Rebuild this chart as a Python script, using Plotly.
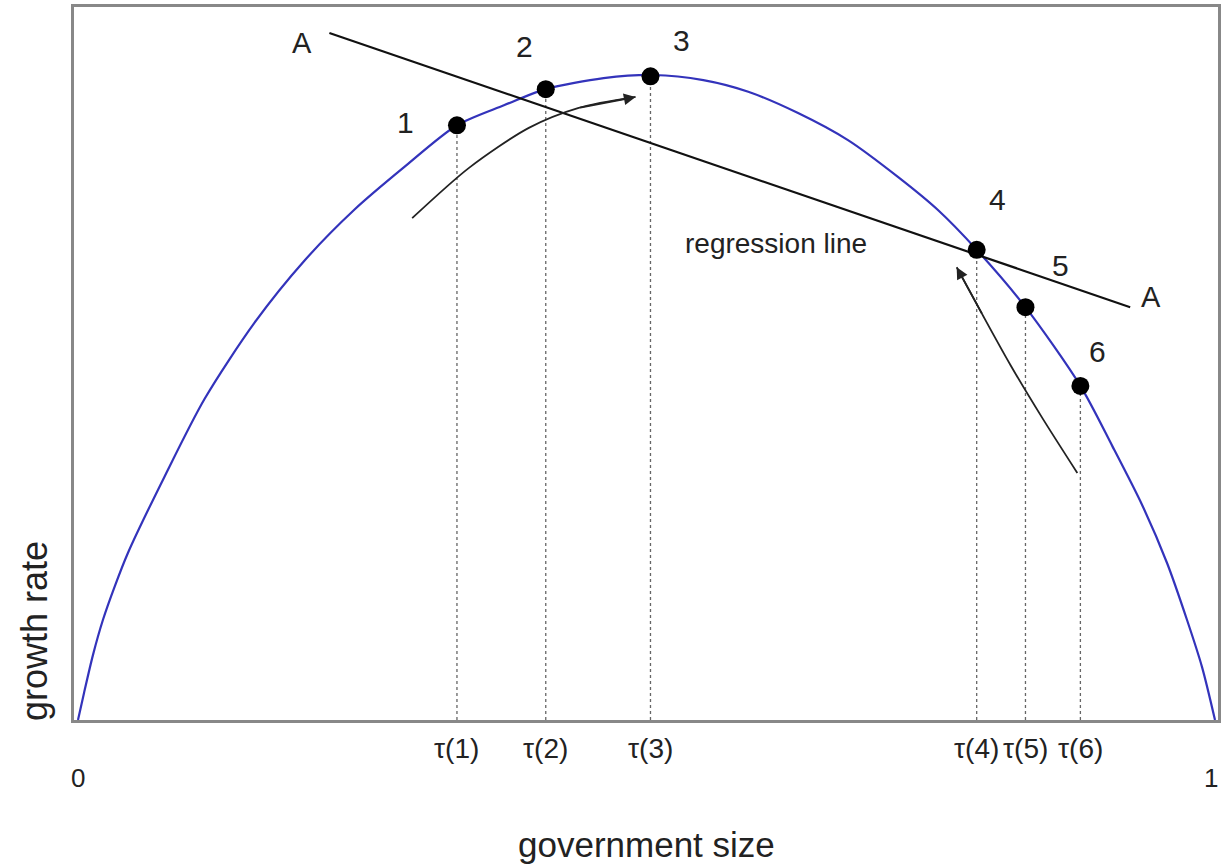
import plotly.graph_objects as go

# ---- data ----
curve_x = [0.0, 0.0053, 0.0132, 0.0219, 0.0325, 0.0439, 0.0763, 0.1114, 0.1553, 0.1991,
           0.2430, 0.2868, 0.3333, 0.3746, 0.4114, 0.4623, 0.5061, 0.55, 0.5895, 0.6333,
           0.6772, 0.7211, 0.7561, 0.7904, 0.8333, 0.8816, 0.9096, 0.9360, 0.9579, 0.9754,
           0.9886, 1.0]
curve_y = [0.0, 0.042, 0.101, 0.155, 0.208, 0.259, 0.378, 0.498, 0.616, 0.712,
           0.791, 0.857, 0.922, 0.953, 0.978, 0.995, 1.000, 0.992, 0.974, 0.941,
           0.899, 0.842, 0.791, 0.729, 0.640, 0.518, 0.425, 0.333, 0.243, 0.155,
           0.082, 0.0]

point_labels = ["1", "2", "3", "4", "5", "6"]
point_x = [0.3333, 0.4114, 0.5035, 0.7904, 0.8333, 0.8816]
point_y = [0.922, 0.978, 0.998, 0.729, 0.640, 0.518]
tick_text = ["τ(1)", "τ(2)", "τ(3)", "τ(4)", "τ(5)", "τ(6)"]

regression_x = [0.2211, 0.9254]
regression_y = [1.065, 0.640]

arrow1_x = [0.2939, 0.3439, 0.3965, 0.4404, 0.4904]
arrow1_y = [0.778, 0.856, 0.918, 0.949, 0.966]
arrow2_x = [0.8789, 0.8482, 0.8202, 0.7956, 0.7728]
arrow2_y = [0.383, 0.468, 0.550, 0.628, 0.702]

# label offsets in pixels (style)
label_shift = [(-51, 3), (-21, 43), (31, 36), (21, 50), (35, 42), (17, 34)]

FONT = "Liberation Sans, Arial, sans-serif"
TXT = "#222222"

fig = go.Figure()

# dotted drop lines
for px_, py_ in zip(point_x, point_y):
    fig.add_trace(go.Scatter(x=[px_, px_], y=[0, py_], mode="lines",
                             line=dict(color="#666666", width=1.3, dash="dot"),
                             hoverinfo="skip", showlegend=False))

# growth curve
fig.add_trace(go.Scatter(x=curve_x, y=curve_y, mode="lines",
                         line=dict(color="#3333bb", width=2.2, shape="spline", smoothing=0.8),
                         showlegend=False))

# regression line
fig.add_trace(go.Scatter(x=regression_x, y=regression_y, mode="lines",
                         line=dict(color="#111111", width=2.2), showlegend=False))

# arrows (curved bodies)
for ax_, ay_ in [(arrow1_x, arrow1_y), (arrow2_x, arrow2_y)]:
    fig.add_trace(go.Scatter(x=ax_, y=ay_, mode="lines",
                             line=dict(color="#222222", width=1.8, shape="spline", smoothing=0.8),
                             showlegend=False))

# points
fig.add_trace(go.Scatter(x=point_x, y=point_y, mode="markers",
                         marker=dict(color="black", size=18), showlegend=False))

ann = []
for lab, px_, py_, (dx, dy) in zip(point_labels, point_x, point_y, label_shift):
    ann.append(dict(x=px_, y=py_, xref="x", yref="y", text=lab, showarrow=False,
                    xshift=dx, yshift=dy, font=dict(family=FONT, size=30, color=TXT)))
for tt, px_ in zip(tick_text, point_x):
    ann.append(dict(x=px_, y=-0.0393, xref="x", yref="paper", text=tt, showarrow=False,
                    yanchor="middle", font=dict(family=FONT, size=28, color=TXT)))
# arrowheads
for ax_, ay_ in [(arrow1_x, arrow1_y), (arrow2_x, arrow2_y)]:
    ann.append(dict(x=ax_[-1], y=ay_[-1], ax=ax_[-2], ay=ay_[-2], xref="x", yref="y",
                    axref="x", ayref="y", showarrow=True, arrowhead=2, arrowsize=1.3,
                    arrowwidth=1.8, arrowcolor="#222222", text=""))
# A labels
ann.append(dict(x=regression_x[0], y=regression_y[0], xref="x", yref="y", text="A",
                showarrow=False, xshift=-27, yshift=-10,
                font=dict(family=FONT, size=29, color=TXT)))
ann.append(dict(x=regression_x[1], y=regression_y[1], xref="x", yref="y", text="A",
                showarrow=False, xshift=21, yshift=10,
                font=dict(family=FONT, size=29, color=TXT)))
ann.append(dict(x=0.614, y=0.7395, xref="x", yref="y", text="regression line",
                showarrow=False, font=dict(family=FONT, size=28, color=TXT)))
# 0 and 1
ann.append(dict(x=0, y=-0.0813, xref="x", yref="paper", text="0", showarrow=False,
                yanchor="middle", font=dict(family=FONT, size=26, color=TXT)))
ann.append(dict(x=1, y=-0.0813, xref="x", yref="paper", text="1", showarrow=False,
                yanchor="middle", xshift=-4, font=dict(family=FONT, size=26, color=TXT)))
# axis titles
ann.append(dict(x=-0.034, y=0.125, xref="paper", yref="paper", text="growth rate",
                showarrow=False, textangle=-90, xanchor="center", yanchor="middle",
                font=dict(family=FONT, size=36, color=TXT)))
ann.append(dict(x=0.5004, y=-0.1753, xref="paper", yref="paper", text="government size",
                showarrow=False, xanchor="center", yanchor="middle",
                font=dict(family=FONT, size=35, color=TXT)))

fig.update_layout(
    width=1222, height=865,
    margin=dict(l=74, r=1, t=7, b=145),
    paper_bgcolor="white", plot_bgcolor="white",
    annotations=ann,
    xaxis=dict(range=[-0.00351, 1.00263], showgrid=False, zeroline=False,
               showticklabels=False, ticks="", showline=True, mirror=True,
               linecolor="#888888", linewidth=2.5),
    yaxis=dict(range=[0, 1.1054], showgrid=False, zeroline=False,
               showticklabels=False, ticks="", showline=True, mirror=True,
               linecolor="#888888", linewidth=2.5),
)

fig.write_html("out.html", config={"displayModeBar": False},
               post_script="document.body.style.margin='0px';document.body.style.overflow='hidden';")
